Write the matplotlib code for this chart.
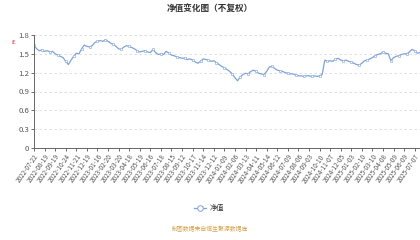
import matplotlib
matplotlib.use("Agg")
import matplotlib.pyplot as plt

plt.rcParams['font.family'] = ['Noto Sans CJK SC', 'DejaVu Sans']

title = "净值变化图（不复权）"
series_name = "净值"
footer = "制图数据来自恒生聚源数据库"

tick_labels = [
    "2022-07-22", "2022-08-19", "2022-09-19", "2022-10-24", "2022-11-21", "2022-12-19",
    "2023-01-16", "2023-02-20", "2023-03-20", "2023-04-18", "2023-05-19", "2023-06-16",
    "2023-07-18", "2023-08-15", "2023-09-12", "2023-10-17", "2023-11-14", "2023-12-12",
    "2024-01-09", "2024-02-06", "2024-03-13", "2024-04-11", "2024-05-14", "2024-06-12",
    "2024-07-09", "2024-08-06", "2024-09-03", "2024-10-10", "2024-11-07", "2024-12-05",
    "2025-01-03", "2025-02-10", "2025-03-10", "2025-04-08", "2025-05-09", "2025-06-09",
    "2025-07-07",
]
tick_step = 4

nav = [
    1.64, 1.58, 1.55, 1.56, 1.54, 1.55, 1.53, 1.54, 1.50, 1.48,
    1.46, 1.44, 1.38, 1.33, 1.40, 1.46, 1.51, 1.50, 1.58, 1.64,
    1.62, 1.61, 1.63, 1.68, 1.70, 1.71, 1.70, 1.72, 1.70, 1.67,
    1.65, 1.62, 1.58, 1.57, 1.61, 1.63, 1.62, 1.60, 1.58, 1.55,
    1.53, 1.54, 1.55, 1.53, 1.52, 1.57, 1.52, 1.49, 1.50, 1.49,
    1.54, 1.51, 1.48, 1.47, 1.45, 1.44, 1.43, 1.43, 1.41, 1.42,
    1.40, 1.37, 1.35, 1.38, 1.42, 1.41, 1.40, 1.38, 1.39, 1.36,
    1.33, 1.30, 1.28, 1.25, 1.22, 1.18, 1.12, 1.07, 1.13, 1.17,
    1.19, 1.18, 1.22, 1.24, 1.22, 1.19, 1.18, 1.17, 1.22, 1.29,
    1.30, 1.27, 1.24, 1.23, 1.22, 1.20, 1.19, 1.18, 1.18, 1.16,
    1.15, 1.15, 1.14, 1.15, 1.15, 1.14, 1.15, 1.14, 1.15, 1.17,
    1.40, 1.38, 1.39, 1.38, 1.41, 1.43, 1.40, 1.39, 1.40, 1.38,
    1.37, 1.35, 1.33, 1.32, 1.35, 1.39, 1.40, 1.42, 1.44, 1.47,
    1.49, 1.50, 1.53, 1.51, 1.50, 1.39, 1.44, 1.46, 1.47, 1.49,
    1.50, 1.50, 1.53, 1.57, 1.55, 1.51, 1.52,
]

yticks = [0, 0.3, 0.6, 0.9, 1.2, 1.5, 1.8]

W, H = 420, 240
fig = plt.figure(figsize=(W / 100, H / 100), dpi=100)
ax = fig.add_axes([34 / W, 1 - 148 / H, (W - 34) / W, (148 - 35) / H])

x = list(range(len(nav)))
ax.plot(x, nav, color="#7fa3d9", lw=0.9, marker="o", markersize=1.8,
        markerfacecolor="white", markeredgewidth=0.4, markevery=3)
ax.set_xlim(0, len(nav) - 1)
ax.set_ylim(0, 1.8)
ax.set_yticks(yticks)
ax.set_yticklabels(["0", "0.3", "0.6", "0.9", "1.2", "1.5", "1.8"])
ax.set_xticks([i * tick_step for i in range(len(tick_labels))])
ax.set_xticklabels(tick_labels, rotation=55, ha="right", rotation_mode="anchor")
ax.tick_params(axis="x", labelsize=4.6, colors="#555555", length=2, width=0.6, pad=1.5)
ax.tick_params(axis="y", labelsize=5.6, colors="#555555", length=2, width=0.6, pad=1.5)
ax.grid(axis="y", color="#d9d9d9", linestyle=(0, (3, 3)), lw=0.6)
ax.set_axisbelow(True)
for s in ["top", "right"]:
    ax.spines[s].set_visible(False)
for s in ["left", "bottom"]:
    ax.spines[s].set_color("#666666")
    ax.spines[s].set_linewidth(0.7)

fig.text(0.5, 1 - 9 / H, title, ha="center", va="center", fontsize=6.2,
         fontweight="bold", color="#333333")
fig.text(14 / W, 1 - 42 / H, "iE", ha="center", va="center", fontsize=4,
         color="#e05050")

# legend
lx, ly = 210 / W, 1 - 208 / H
fig.add_artist(plt.Line2D([lx - 16 / W, lx - 4 / W], [ly, ly], color="#7fa3d9",
                          lw=0.9, transform=fig.transFigure))
fig.add_artist(plt.Line2D([lx - 10 / W], [ly], color="#7fa3d9", marker="o",
                          markersize=4, markerfacecolor="white", markeredgewidth=0.7,
                          transform=fig.transFigure))
fig.text(lx, ly, series_name, ha="left", va="center", fontsize=5.2, color="#333333")

fig.text(0.5, 1 - 228 / H, footer, ha="center", va="center", fontsize=4.2,
         color="#d4a24c")

fig.savefig("out.png", dpi=100)
